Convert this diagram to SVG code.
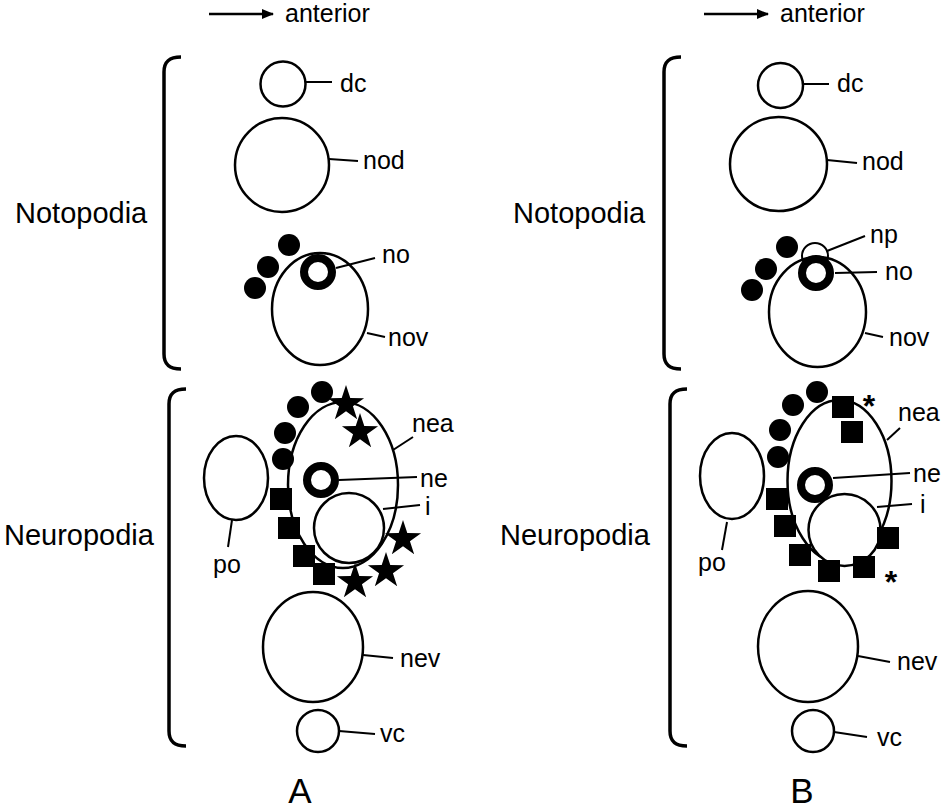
<svg xmlns="http://www.w3.org/2000/svg" xmlns:xlink="http://www.w3.org/1999/xlink" width="950" height="811" viewBox="0 0 950 811">
<style>
.o{fill:none;stroke:#000;stroke-width:2.5}
.w{fill:#fff;stroke:#000;stroke-width:2.5}
.ring{fill:#fff;stroke:#000;stroke-width:8}
.dot{fill:#000}
.sq{fill:#000}
.lead{stroke:#000;stroke-width:2;fill:none}
.br{fill:none;stroke:#000;stroke-width:3.5}
text{font-family:"Liberation Sans",Arial,Helvetica,sans-serif;fill:#000}
.lab{font-size:25px}
.side{font-size:29px}
.big{font-size:35px;text-anchor:middle}
.ast{font-size:32px;font-weight:bold;text-anchor:middle}
</style>
<defs>
<marker id="ah" viewBox="0 0 12 10" refX="11" refY="5" markerWidth="12" markerHeight="10" markerUnits="userSpaceOnUse" orient="auto">
<path d="M0,0 L12,5 L0,10 Z" fill="#000"/>
</marker>
<path id="star" d="M0,-19 L4.29,-5.91 L18.07,-5.87 L6.94,2.26 L11.17,15.37 L0,7.3 L-11.17,15.37 L-6.94,2.26 L-18.07,-5.87 L-4.29,-5.91 Z" fill="#000"/>
<rect id="sqr" x="-11" y="-11" width="22" height="22" fill="#000"/>
</defs>

<!-- Panel A -->
<g id="A-axis">
<line x1="209" y1="14" x2="273" y2="14" stroke="#000" stroke-width="2.5" marker-end="url(#ah)"/>
<text class="lab" x="285" y="22">anterior</text>
</g>
<g id="A-notopodia-bracket">
<path class="br" d="M181,57 C169,57 164,62 164,72 L164,354 C164,364 169,369 181,369"/>
<text class="side" x="15" y="223">Notopodia</text>
</g>
<g id="A-neuropodia-bracket">
<path class="br" d="M186,389 C174,389 169,394 169,404 L169,731 C169,741 174,746 186,746"/>
<text class="side" x="4" y="545">Neuropodia</text>
</g>
<g id="A-dc"><circle class="o" cx="283" cy="84" r="22.5"/><text class="lab" x="340" y="92">dc</text></g>
<g id="A-nod"><ellipse class="o" cx="282" cy="165" rx="47" ry="47"/><text class="lab" x="363" y="169">nod</text></g>
<g id="A-nov"><ellipse class="o" cx="320" cy="309" rx="48" ry="56"/><text class="lab" x="388" y="346">nov</text></g>
<g id="A-no-dots"><circle class="dot" cx="289" cy="245" r="11"/><circle class="dot" cx="268" cy="267" r="11"/><circle class="dot" cx="255" cy="288" r="11"/></g>
<g id="A-no"><circle class="ring" cx="318" cy="272" r="14"/><text class="lab" x="382" y="263">no</text></g>

<g id="A-po"><ellipse class="o" cx="236" cy="478" rx="32" ry="42"/><text class="lab" x="213" y="573">po</text></g>
<g id="A-nea"><ellipse class="o" cx="343" cy="485" rx="55" ry="83"/><text class="lab" x="412" y="432">nea</text></g>
<g id="A-i"><circle class="w" cx="349" cy="528" r="35"/><text class="lab" x="425" y="515">i</text></g>
<g id="A-ne"><circle class="ring" cx="321" cy="480" r="14"/><text class="lab" x="420" y="487">ne</text></g>
<g id="A-ne-dots"><circle class="dot" cx="322" cy="392" r="11"/><circle class="dot" cx="298" cy="407" r="11"/><circle class="dot" cx="285" cy="433" r="11"/><circle class="dot" cx="283" cy="459" r="11"/></g>
<g id="A-squares"><use href="#sqr" x="281" y="499"/><use href="#sqr" x="289" y="528"/><use href="#sqr" x="304" y="556"/><use href="#sqr" x="324" y="574"/></g>
<g id="A-stars"><use href="#star" x="346" y="404"/><use href="#star" x="360" y="432"/><use href="#star" x="403" y="539"/><use href="#star" x="386" y="571"/><use href="#star" x="355" y="582"/></g>
<g id="A-nev"><ellipse class="o" cx="313" cy="647" rx="50" ry="55"/><text class="lab" x="400" y="667">nev</text></g>
<g id="A-vc"><circle class="o" cx="318" cy="731" r="21"/><text class="lab" x="380" y="742">vc</text></g>
<g id="A-label"><text class="big" x="300" y="803">A</text></g>

<!-- Panel B -->
<g id="B-axis">
<line x1="704" y1="14" x2="768" y2="14" stroke="#000" stroke-width="2.5" marker-end="url(#ah)"/>
<text class="lab" x="780" y="22">anterior</text>
</g>
<g id="B-notopodia-bracket">
<path class="br" d="M681,57 C669,57 664,62 664,72 L664,354 C664,364 669,369 681,369"/>
<text class="side" x="513" y="223">Notopodia</text>
</g>
<g id="B-neuropodia-bracket">
<path class="br" d="M687,389 C675,389 670,394 670,404 L670,731 C670,741 675,746 687,746"/>
<text class="side" x="500" y="545">Neuropodia</text>
</g>
<g id="B-dc"><circle class="o" cx="780.5" cy="85.5" r="22.5"/><text class="lab" x="837" y="92">dc</text></g>
<g id="B-nod"><ellipse class="o" cx="778.5" cy="164" rx="48.5" ry="47"/><text class="lab" x="862" y="170">nod</text></g>
<g id="B-np"><circle class="w" cx="815" cy="256" r="13" style="stroke-width:2"/><text class="lab" x="870" y="243">np</text></g>
<g id="B-nov"><ellipse class="o" cx="817.5" cy="312" rx="48.5" ry="55"/><text class="lab" x="889" y="346">nov</text></g>
<g id="B-no-dots"><circle class="dot" cx="787" cy="247" r="11"/><circle class="dot" cx="766" cy="269" r="11"/><circle class="dot" cx="752" cy="290" r="11"/></g>
<g id="B-no"><circle class="ring" cx="816" cy="273" r="14"/><text class="lab" x="885" y="280">no</text></g>

<g id="B-po"><ellipse class="o" cx="732" cy="476" rx="32" ry="43"/><text class="lab" x="698" y="571">po</text></g>
<g id="B-nea"><ellipse class="o" cx="839.5" cy="481" rx="52" ry="81"/><text class="lab" x="898" y="421">nea</text></g>
<g id="B-i"><circle class="w" cx="844.5" cy="530" r="36"/><text class="lab" x="920" y="513">i</text></g>
<g id="B-ne"><circle class="ring" cx="815" cy="485" r="14"/><text class="lab" x="913" y="482">ne</text></g>
<g id="B-ne-dots"><circle class="dot" cx="817" cy="392" r="11"/><circle class="dot" cx="793" cy="405" r="11"/><circle class="dot" cx="780" cy="430" r="11"/><circle class="dot" cx="778" cy="457" r="11"/></g>
<g id="B-squares"><use href="#sqr" x="843" y="407"/><use href="#sqr" x="852" y="432"/><use href="#sqr" x="777" y="499"/><use href="#sqr" x="785" y="526"/><use href="#sqr" x="800" y="555"/><use href="#sqr" x="829" y="571"/><use href="#sqr" x="864" y="567"/><use href="#sqr" x="888" y="538"/></g>
<g id="B-asterisks"><text class="ast" x="869" y="417">*</text><text class="ast" x="891" y="593">*</text></g>
<g id="B-nev"><ellipse class="o" cx="808" cy="646.5" rx="50" ry="55.5"/><text class="lab" x="897" y="670">nev</text></g>
<g id="B-vc"><circle class="o" cx="813" cy="731" r="21"/><text class="lab" x="877" y="746">vc</text></g>
<g id="B-label"><text class="big" x="802" y="803">B</text></g>

<g id="connectors">
<line class="lead" x1="305" y1="82" x2="332" y2="82"/>
<line class="lead" x1="329" y1="159" x2="358" y2="161"/>
<line class="lead" x1="336" y1="268" x2="375" y2="258"/>
<line class="lead" x1="367" y1="333" x2="385" y2="337"/>
<line class="lead" x1="232" y1="520" x2="228" y2="547"/>
<line class="lead" x1="393" y1="450" x2="413" y2="437"/>
<line class="lead" x1="339" y1="480" x2="417" y2="477"/>
<line class="lead" x1="383" y1="509" x2="420" y2="505"/>
<line class="lead" x1="363" y1="655" x2="393" y2="658"/>
<line class="lead" x1="339" y1="731" x2="375" y2="734"/>

<line class="lead" x1="803" y1="84" x2="829" y2="84"/>
<line class="lead" x1="827" y1="160" x2="857" y2="163"/>
<line class="lead" x1="827" y1="251" x2="865" y2="236"/>
<line class="lead" x1="835" y1="273" x2="877" y2="272"/>
<line class="lead" x1="865" y1="333" x2="883" y2="337"/>
<line class="lead" x1="727" y1="522" x2="722" y2="550"/>
<line class="lead" x1="887" y1="440" x2="900" y2="428"/>
<line class="lead" x1="833" y1="478" x2="910" y2="473"/>
<line class="lead" x1="877" y1="507" x2="912" y2="504"/>
<line class="lead" x1="858" y1="656" x2="890" y2="662"/>
<line class="lead" x1="834" y1="732" x2="867" y2="737"/>
</g>
</svg>
